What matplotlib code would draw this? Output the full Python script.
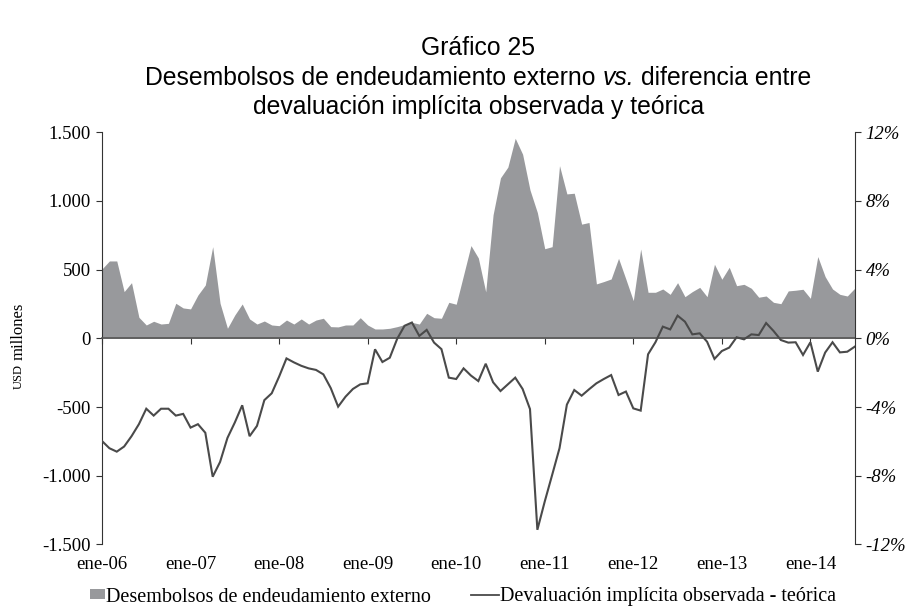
import matplotlib
matplotlib.use("Agg")
import matplotlib.pyplot as plt
from matplotlib.patches import Patch, Rectangle
from matplotlib.lines import Line2D
from matplotlib.legend_handler import HandlerPatch
import numpy as np

# ---- data (monthly, ene-06 .. jul-14) ----
desembolsos = [505, 563, 563, 340, 405, 153, 97, 124, 104, 109, 255, 221,
               214, 315, 388, 667, 255, 73, 170, 250, 141, 104, 126, 97,
               92, 133, 104, 141, 104, 133, 146, 85, 83, 97, 97, 150,
               97, 68, 68, 73, 85, 100, 116, 104, 182, 150, 146, 262,
               248, 461, 675, 585, 338, 900, 1168, 1246, 1456, 1340, 1080, 915,
               652, 667, 1257, 1051, 1056, 831, 843, 396, 413, 432, 582, 430,
               274, 650, 335, 335, 359, 320, 405, 303, 340, 371, 303, 539,
               430, 517, 383, 393, 364, 299, 308, 262, 252, 345, 350, 357,
               291, 595, 449, 359, 320, 308, 364]

devaluacion = [-5.98, -6.4, -6.6, -6.3, -5.7, -5.0, -4.1, -4.5, -4.1, -4.1, -4.5, -4.4,
               -5.2, -5.0, -5.5, -8.06, -7.2, -5.8, -4.9, -3.9, -5.7, -5.1, -3.6, -3.2,
               -2.23, -1.17, -1.4, -1.6, -1.75, -1.84, -2.1, -2.9, -3.98, -3.4, -2.95, -2.68,
               -2.62, -0.64, -1.38, -1.13, -0.03, 0.73, 0.92, 0.14, 0.49, -0.25, -0.63, -2.29,
               -2.37, -1.75, -2.17, -2.49, -1.48, -2.56, -3.07, -2.68, -2.29, -2.95, -4.12, -11.15,
               -9.5, -7.96, -6.4, -3.86, -3.01, -3.34, -2.97, -2.62, -2.37, -2.14, -3.3, -3.1,
               -4.08, -4.21, -0.93, -0.23, 0.68, 0.52, 1.32, 0.97, 0.23, 0.29, -0.2, -1.2,
               -0.74, -0.54, 0.06, -0.06, 0.23, 0.19, 0.89, 0.43, -0.1, -0.25, -0.23, -0.97,
               -0.23, -1.94, -0.83, -0.23, -0.82, -0.78, -0.49]

year_labels = ["ene-06", "ene-07", "ene-08", "ene-09", "ene-10",
               "ene-11", "ene-12", "ene-13", "ene-14"]
left_ticks = [-1500, -1000, -500, 0, 500, 1000, 1500]
left_labels = ["-1.500", "-1.000", "-500", "0", "500", "1.000", "1.500"]
right_ticks = [-12, -8, -4, 0, 4, 8, 12]
right_labels = ["-12%", "-8%", "-4%", "0%", "4%", "8%", "12%"]

title1 = "Gráfico 25"
title2_parts = [("Desembolsos de endeudamiento externo", "normal"),
                ("vs.", "italic"),
                ("diferencia entre", "normal")]
title3 = "devaluación implícita observada y teórica"

# ---- style ----
serif = ["Liberation Serif", "DejaVu Serif"]
sans = ["Liberation Sans", "DejaVu Sans"]
area_color = "#98999c"
line_color = "#4a4a4a"
axis_color = "#333333"
W, H = 919, 615

fig = plt.figure(figsize=(W / 100, H / 100), dpi=100)
ax = fig.add_axes([0.111, 0.1148, 0.819, 0.6702])
ax2 = ax.twinx()

x = np.arange(len(desembolsos))
ax.fill_between(x, 0, desembolsos, color=area_color, linewidth=0, zorder=1)
ax2.plot(np.arange(len(devaluacion)), devaluacion, color=line_color, lw=1.5,
         solid_joinstyle="miter")

ax.set_xlim(0, len(desembolsos) - 1)
ax.set_ylim(-1500, 1500)
ax2.set_ylim(-12, 12)

# zero line with ticks
ax.spines["bottom"].set_position(("data", 0))
ax.spines["bottom"].set_color("#555555")
ax.spines["bottom"].set_linewidth(1.2)
ax.spines["bottom"].set_zorder(3)
ax.spines["top"].set_visible(False)
ax.spines["right"].set_visible(False)
ax.spines["left"].set_color(axis_color)
for s in ["top", "bottom", "left"]:
    ax2.spines[s].set_visible(False)
ax2.spines["right"].set_color(axis_color)

xt = [12 * k for k in range(len(year_labels))]
ax.set_xticks(xt)
ax.tick_params(axis="x", direction="out", length=4, color="#333333",
               labelbottom=False)
sec = ax.secondary_xaxis("bottom")
sec.set_xticks(xt)
sec.set_xticklabels(year_labels, fontfamily=serif, fontsize=13.5)
sec.tick_params(length=0, pad=8)
sec.spines["bottom"].set_visible(False)

ax.set_yticks(left_ticks)
ax.set_yticklabels(left_labels, fontfamily=serif, fontsize=13.5)
ax.tick_params(axis="y", direction="out", length=4, color=axis_color, pad=4)
ax2.set_yticks(right_ticks)
ax2.set_yticklabels(right_labels, fontfamily=serif, fontsize=13.5, style="italic")
ax2.tick_params(axis="y", direction="out", length=4, color=axis_color, pad=4)

# y label with small-caps style "USD"
fig.text(0.02, 1 - 364 / H, "USD", rotation=90, rotation_mode="anchor",
         ha="right", va="center", fontfamily=serif, fontsize=9)
fig.text(0.02, 1 - 360 / H, "millones", rotation=90, rotation_mode="anchor",
         ha="left", va="center", fontfamily=serif, fontsize=12)

# ---- titles (centred over plot area) ----
tsize = 17.8
cxp = 478.5
cx = cxp / W
fig.text(cx, 1 - 48 / H, title1, ha="center", va="center",
         fontfamily=sans, fontsize=tsize)
fig.text(cx, 1 - 107 / H, title3, ha="center", va="center",
         fontfamily=sans, fontsize=tsize)

renderer = fig.canvas.get_renderer()
def text_width(s, style):
    t = fig.text(0, 0, s, fontfamily=sans, fontsize=tsize, style=style)
    w = t.get_window_extent(renderer).width
    t.remove()
    return w
space = text_width("x x", "normal") - text_width("xx", "normal")
widths = [text_width(s, st) for s, st in title2_parts]
total = sum(widths) + space * (len(widths) - 1)
xp = cxp - total / 2
for (s, st), w in zip(title2_parts, widths):
    fig.text(xp / W, 1 - 78 / H, s, ha="left", va="center",
             fontfamily=sans, fontsize=tsize, style=st)
    xp += w + space

# ---- legend ----
def square_patch(legend, orig_handle, xdescent, ydescent, width, height, fontsize):
    w, h = 10.8, 7.2
    return Rectangle((width - w - xdescent, -ydescent + (height - h) / 2), w, h)

handles = [Patch(facecolor=area_color, edgecolor="none"),
           Line2D([0], [0], color=line_color, lw=1.3)]
labels = ["Desembolsos de endeudamiento externo",
          "Devaluación implícita observada - teórica"]
fig.legend(handles, labels, loc="center", bbox_to_anchor=(456.5 / W, 1 - 597 / H),
           ncol=2, frameon=False, prop={"family": serif, "size": 14.5},
           handlelength=1.39, handleheight=0.6, handletextpad=0.05,
           columnspacing=2.0,
           handler_map={Patch: HandlerPatch(patch_func=square_patch)})

fig.savefig("out.png", dpi=100)
